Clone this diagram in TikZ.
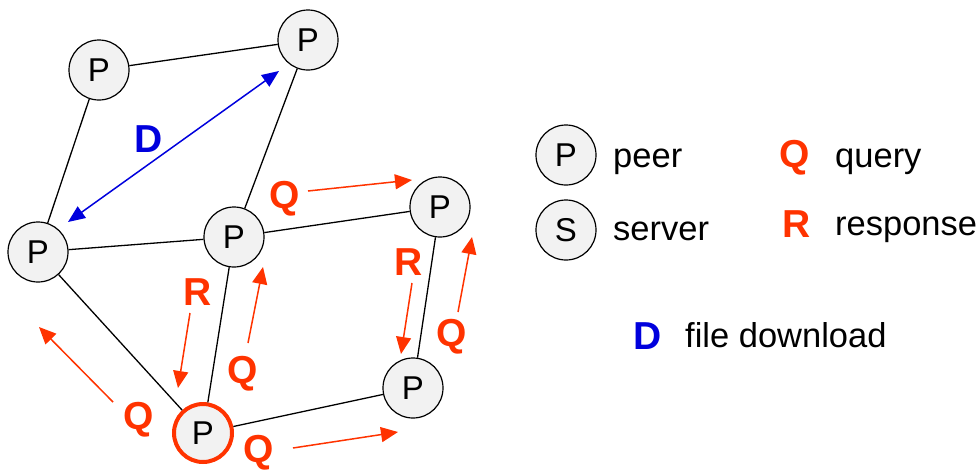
\documentclass[tikz,border=0pt]{standalone}
\usepackage{fontspec}
\setmainfont{Liberation Sans}
\usetikzlibrary{arrows.meta}
\definecolor{qred}{HTML}{FF3300}
\definecolor{dblue}{HTML}{0000DD}
\definecolor{nodefill}{HTML}{F2F2F2}
\begin{document}
\begin{tikzpicture}[x=1pt,y=-1pt,
  peer/.style={circle,draw=black,line width=1.2pt,fill=nodefill,minimum size=60pt,inner sep=0pt,
    font=\fontsize{33}{35}\selectfont},
  srcpeer/.style={peer,draw=qred,line width=4pt,minimum size=58pt},
  link/.style={line width=1.3pt,black},
  qarrow/.style={qred,line width=1.5pt,-{Triangle[length=17pt,width=15pt]}},
  darrow/.style={dblue,line width=1.5pt,{Triangle[length=17pt,width=14pt]}-{Triangle[length=17pt,width=14pt]}},
  qlabel/.style={text=qred,font=\fontsize{39}{40}\selectfont\bfseries,inner sep=0pt},
  dlabel/.style={text=dblue,font=\fontsize{39}{40}\selectfont\bfseries,inner sep=0pt},
  legtext/.style={anchor=base west,inner sep=0pt,font=\fontsize{34.5}{36}\selectfont}
]
\useasboundingbox (0,0) rectangle (978,472);
% peers
\node[peer] (p1) at (99,70) {P};
\node[peer] (p2) at (308,40) {P};
\node[peer] (p3) at (38,252) {P};
\node[peer] (p4) at (234,237) {P};
\node[peer] (p5) at (440,207) {P};
\node[peer] (p6) at (413,388) {P};
\node[srcpeer] (p7) at (203,433) {P};
% links
\draw[link] (p1) -- (p2);
\draw[link] (p1) -- (p3);
\draw[link] (p2) -- (p4);
\draw[link] (p3) -- (p4);
\draw[link] (p4) -- (p5);
\draw[link] (p3) -- (p7);
\draw[link] (p4) -- (p7);
\draw[link] (p7) -- (p6);
\draw[link] (p6) -- (p5);
% arrow end points
\coordinate (d1) at (68,222);
\coordinate (d2) at (279,71);
\coordinate (qa1) at (308,191);
\coordinate (qa2) at (412,180);
\coordinate (ra1) at (190,313);
\coordinate (ra2) at (178,388);
\coordinate (qb1) at (248,343);
\coordinate (qb2) at (263,267);
\coordinate (rc1) at (412,283);
\coordinate (rc2) at (401,354);
\coordinate (qc1) at (458,312);
\coordinate (qc2) at (472,237);
\coordinate (qd1) at (113,402);
\coordinate (qd2) at (39,327);
\coordinate (qe1) at (293,448);
\coordinate (qe2) at (398,432);
% messages
\draw[darrow] (d1) -- (d2);
\draw[qarrow] (qa1) -- (qa2);
\draw[qarrow] (ra1) -- (ra2);
\draw[qarrow] (qb1) -- (qb2);
\draw[qarrow] (rc1) -- (rc2);
\draw[qarrow] (qc1) -- (qc2);
\draw[qarrow] (qd1) -- (qd2);
\draw[qarrow] (qe1) -- (qe2);
% labels
\node[dlabel] (ld) at (149,139) {D};
\node[qlabel] (lq1) at (285,199) {Q};
\node[qlabel] (lr1) at (198,292) {R};
\node[qlabel] (lq2) at (243,374) {Q};
\node[qlabel] (lr2) at (409,262) {R};
\node[qlabel] (lq3) at (452,337) {Q};
\node[qlabel] (lq4) at (139,420) {Q};
\node[qlabel] (lq5) at (259,453) {Q};
% legend
\node[peer] (legp) at (566,155) {P};
\node[peer] (legs) at (566,230) {S};
\node[legtext] (tpeer) at (613,167) {peer};
\node[legtext] (tserver) at (613,240) {server};
\node[qlabel] (legq) at (795,158) {Q};
\node[qlabel] (legr) at (797,224) {R};
\node[legtext] (tquery) at (835,167) {query};
\node[legtext] (tresp) at (835,235) {response};
\node[dlabel] (legd) at (648,336) {D};
\node[legtext] (tfile) at (685,347) {file download};
\end{tikzpicture}
\end{document}
